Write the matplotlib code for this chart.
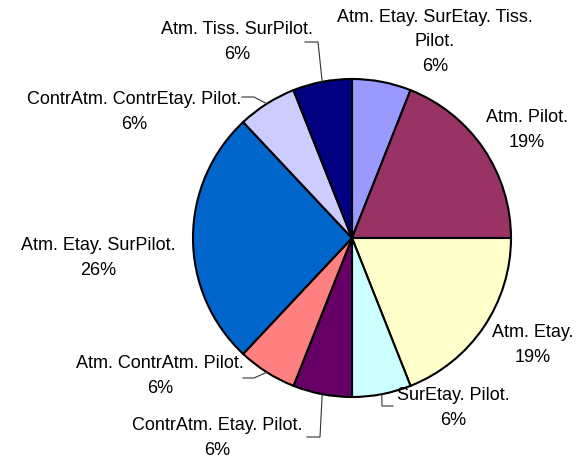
import numpy as np
import matplotlib
matplotlib.use("Agg")
import matplotlib.pyplot as plt

# data (percent, clockwise from 12 o'clock)
labels = ['Atm. Etay. SurEtay. Tiss.\nPilot.', 'Atm. Pilot.', 'Atm. Etay.', 'SurEtay. Pilot.',
          'ContrAtm. Etay. Pilot.', 'Atm. ContrAtm. Pilot.', 'Atm. Etay. SurPilot.',
          'ContrAtm. ContrEtay. Pilot.', 'Atm. Tiss. SurPilot.']
values = [6, 19, 19, 6, 6, 6, 26, 6, 6]
colors = ['#9999FF', '#993366', '#FFFFCC', '#CCFFFF', '#660066', '#FF8080',
          '#0066CC', '#CCCCFF', '#000080']

# label centres in pixels (x, y from top)
label_pos = [(435, 42), (527, 130), (533, 345), (453, 408), (217, 438),
             (160, 376), (98, 258), (134, 112), (237, 42)]
# leader lines: (label end, elbow) in pixels, None = no leader
leaders = [None, None, None, ((393, 406), (382, 406)), ((307, 437), (320, 437)),
           ((243, 378), (254, 378)), None, ((242, 97), (254, 97)), ((305, 42), (318, 42))]

W, H = 580, 461
cx, cy, r = 352, 238, 159


def fy(y):
    return H - y


fig = plt.figure(figsize=(5.8, 4.61), dpi=100)
ax = fig.add_axes([0, 0, 1, 1])
wedges, _ = ax.pie(values, colors=colors, startangle=90, counterclock=False,
                   center=(cx, fy(cy)), radius=r,
                   wedgeprops=dict(edgecolor='black', linewidth=1.5))
ax.set_xlim(0, W)
ax.set_ylim(0, H)
ax.set_aspect('auto')
ax.axis('off')

for w, lab, v, pos, ld in zip(wedges, labels, values, label_pos, leaders):
    ax.text(pos[0], fy(pos[1]), f"{lab}\n{v}%", ha='center', va='center',
            fontsize=13, family='Liberation Sans', linespacing=1.6, color='black')
    if ld is not None:
        ang = np.deg2rad((w.theta1 + w.theta2) / 2)
        ex = cx + r * np.cos(ang)
        ey = fy(cy) + r * np.sin(ang)
        xs = [ld[0][0], ld[1][0], ex]
        ys = [fy(ld[0][1]), fy(ld[1][1]), ey]
        ax.plot(xs, ys, color='#333333', linewidth=0.8)

fig.savefig('out.png', dpi=100)
